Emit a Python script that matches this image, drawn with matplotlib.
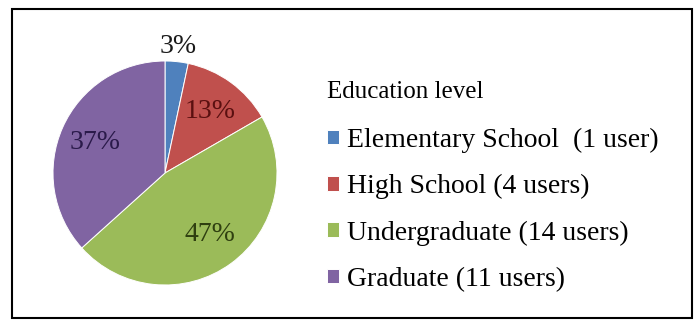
import matplotlib.pyplot as plt
from matplotlib.patches import Rectangle
import numpy as np

# data
levels = ['Elementary School  (1 user)', 'High School (4 users)',
          'Undergraduate (14 users)', 'Graduate (11 users)']
users = [1, 4, 14, 11]
colors = ['#4F81BD', '#C0504D', '#9BBB59', '#8064A2']
label_colors = ['#1a1a1a', '#5a1010', '#2f3f10', '#2a1a4a']

plt.rcParams['font.family'] = ['Liberation Serif', 'DejaVu Serif']

fig = plt.figure(figsize=(7, 3.27), dpi=100)

# pie axes: centre ~ (165, 172) px, radius ~112 px
ax = fig.add_axes([(165 - 112) / 700, 1 - (173 + 112) / 327, 224 / 700, 224 / 327])
wedges, texts, autotexts = ax.pie(
    users, colors=colors, startangle=90, counterclock=False,
    autopct=lambda p: f'{p:.0f}%', pctdistance=0.68,
    wedgeprops=dict(edgecolor='white', linewidth=0.7),
    textprops=dict(fontsize=20))
ax.set_xlim(-1, 1)
ax.set_ylim(-1, 1)
ax.set_aspect('equal')

for t, c in zip(autotexts, label_colors):
    t.set_color(c)

# the small slice gets its label outside
w = wedges[0]
mid = np.deg2rad((w.theta1 + w.theta2) / 2)
autotexts[0].set_position((1.14 * np.cos(mid), 1.14 * np.sin(mid)))
autotexts[0].set_color('#1a1a1a')
autotexts[0].set_clip_on(False)

leg = fig.legend(wedges, levels, loc='upper left',
                 bbox_to_anchor=(313 / 700, 1 - 67 / 327),
                 frameon=False, fontsize=20, title='Education level',
                 title_fontsize=18, alignment='left',
                 handlelength=0.42, handleheight=0.42, handletextpad=0.3,
                 labelspacing=0.76, borderpad=0)
leg._legend_box.sep = 18

# outer frame
fig.patches.append(Rectangle((12 / 700, 9 / 327), 680 / 700, 309 / 327,
                             transform=fig.transFigure, fill=False,
                             edgecolor='black', linewidth=1.5))

fig.savefig('out.png', dpi=100)
